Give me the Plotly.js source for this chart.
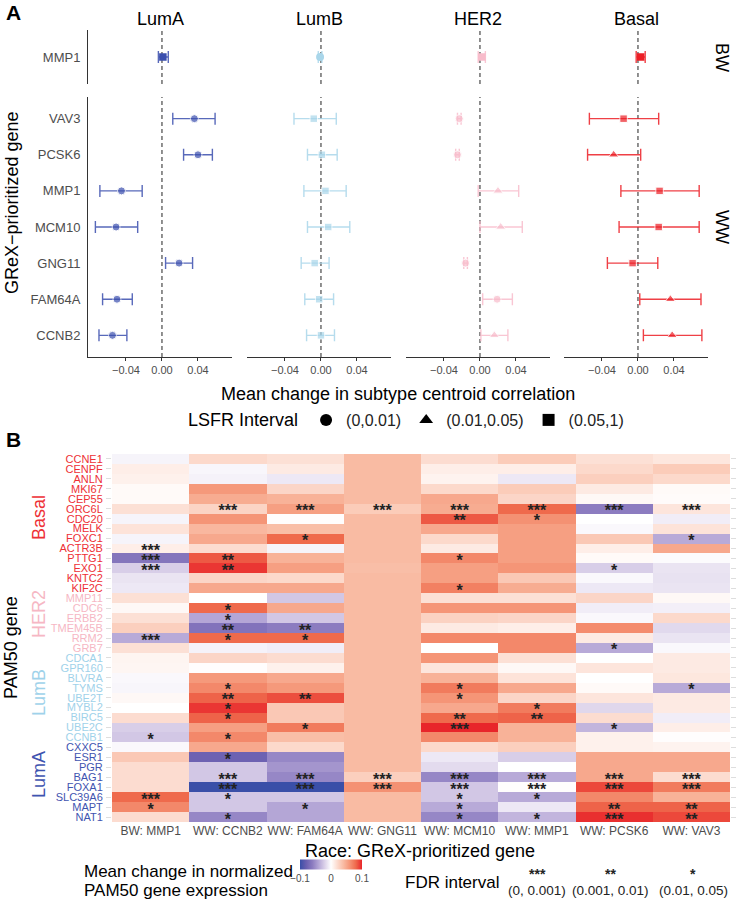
<!DOCTYPE html>
<html><head><meta charset="utf-8">
<script src="https://cdn.plot.ly/plotly-3.0.1.min.js"></script>
<style>body{margin:0;background:#fff}#chart{width:737px;height:901px}</style>
</head><body><div id="chart"></div>
<script>
// ---------------- Panel A data ----------------
const subtypes = ["LumA", "LumB", "HER2", "Basal"];
const subtypeColors = ["#3b4fae", "#a9d6ea", "#f8bccb", "#ec1f26"];
const genesBW = ["MMP1"];
const genesWW = ["VAV3", "PCSK6", "MMP1", "MCM10", "GNG11", "FAM64A", "CCNB2"];

// BW: MMP1, one value per subtype (LumA, LumB, HER2, Basal)
const bwEst  = [0.001, -0.001, 0.002, 0.003];
const bwLo   = [-0.004, -0.003, -0.002, -0.002];
const bwHi   = [0.007, 0.001, 0.006, 0.008];
const bwLsfr = ["(0.05,1)", "(0,0.01)", "(0.05,1)", "(0.05,1)"];

// WW, per subtype, genes in genesWW order
const wwEstLumA = [0.036, 0.040, -0.045, -0.051, 0.019, -0.050, -0.055];
const wwLoLumA  = [0.012, 0.024, -0.069, -0.074, 0.004, -0.066, -0.070];
const wwHiLumA  = [0.059, 0.056, -0.022, -0.027, 0.034, -0.033, -0.039];
const wwLsfrLumA = ["(0,0.01)", "(0,0.01)", "(0,0.01)", "(0,0.01)", "(0,0.01)", "(0,0.01)", "(0,0.01)"];

const wwEstLumB = [-0.008, 0.001, 0.005, 0.008, -0.007, -0.002, 0.000];
const wwLoLumB  = [-0.030, -0.015, -0.019, -0.015, -0.022, -0.018, -0.016];
const wwHiLumB  = [0.017, 0.018, 0.028, 0.032, 0.009, 0.014, 0.015];
const wwLsfrLumB = ["(0.05,1)", "(0.05,1)", "(0.05,1)", "(0.05,1)", "(0.05,1)", "(0.05,1)", "(0.05,1)"];

const wwEstHER2 = [-0.023, -0.025, 0.020, 0.023, -0.016, 0.019, 0.016];
const wwLoHER2  = [-0.025, -0.027, -0.002, 0.000, -0.018, 0.003, 0.001];
const wwHiHER2  = [-0.021, -0.023, 0.043, 0.047, -0.014, 0.036, 0.031];
const wwLsfrHER2 = ["(0,0.01)", "(0,0.01)", "(0.01,0.05)", "(0.01,0.05)", "(0,0.01)", "(0,0.01)", "(0.01,0.05)"];

const wwEstBasal = [-0.016, -0.027, 0.024, 0.023, -0.006, 0.036, 0.038];
const wwLoBasal  = [-0.054, -0.056, -0.019, -0.021, -0.034, 0.002, 0.006];
const wwHiBasal  = [0.023, 0.003, 0.068, 0.068, 0.022, 0.070, 0.071];
const wwLsfrBasal = ["(0.05,1)", "(0.01,0.05)", "(0.05,1)", "(0.05,1)", "(0.05,1)", "(0.01,0.05)", "(0.01,0.05)"];

const lsfrLevels = ["(0,0.01)", "(0.01,0.05)", "(0.05,1)"];
const xTicksA = [-0.04, 0, 0.04];

// ---------------- Panel B data ----------------
const heatCols = ["BW: MMP1", "WW: CCNB2", "WW: FAM64A", "WW: GNG11", "WW: MCM10", "WW: MMP1", "WW: PCSK6", "WW: VAV3"];
const heatGenes = ["CCNE1","CENPF","ANLN","MKI67","CEP55","ORC6L","CDC20","MELK","FOXC1","ACTR3B","PTTG1","EXO1","KNTC2","KIF2C",
  "MMP11","CDC6","ERBB2","TMEM45B","RRM2","GRB7",
  "CDCA1","GPR160","BLVRA","TYMS","UBE2T","MYBL2","BIRC5","UBE2C","CCNB1",
  "CXXC5","ESR1","PGR","BAG1","FOXA1","SLC39A6","MAPT","NAT1"];
const geneGroups = ["Basal","Basal","Basal","Basal","Basal","Basal","Basal","Basal","Basal","Basal","Basal","Basal","Basal","Basal",
  "HER2","HER2","HER2","HER2","HER2","HER2",
  "LumB","LumB","LumB","LumB","LumB","LumB","LumB","LumB","LumB",
  "LumA","LumA","LumA","LumA","LumA","LumA","LumA","LumA"];
const heatZ = [
  [-0.005, 0.022, 0.018, 0.040, 0.020, 0.030, 0.018, 0.014],
  [0.010, -0.004, 0.012, 0.040, 0.010, 0.010, 0.022, 0.030],
  [0.008, -0.006, -0.010, 0.040, 0.007, -0.010, 0.028, 0.022],
  [0.003, 0.058, 0.024, 0.040, 0.022, 0.030, 0.012, 0.003],
  [0.003, 0.048, 0.045, 0.040, 0.050, 0.024, 0.004, 0.002],
  [0.018, 0.025, 0.055, 0.030, 0.048, 0.080, -0.060, 0.015],
  [-0.005, 0.060, 0.001, 0.040, 0.085, 0.062, 0.000, -0.008],
  [0.016, 0.042, 0.038, 0.040, 0.050, 0.055, -0.003, 0.016],
  [-0.005, 0.050, 0.080, 0.040, 0.022, 0.055, 0.032, -0.038],
  [0.010, 0.020, -0.005, 0.040, 0.012, 0.055, 0.010, 0.050],
  [-0.065, 0.085, 0.045, 0.040, 0.066, 0.055, 0.003, -0.002],
  [-0.022, 0.095, 0.055, 0.038, 0.055, 0.060, -0.022, -0.012],
  [-0.012, 0.024, 0.022, 0.040, 0.055, 0.032, -0.003, -0.013],
  [-0.010, 0.050, 0.050, 0.040, 0.070, 0.048, -0.010, -0.012],
  [0.018, 0.000, -0.025, 0.040, 0.018, 0.018, 0.024, 0.004],
  [0.004, 0.080, 0.050, 0.040, 0.060, 0.060, -0.008, -0.007],
  [0.018, -0.040, -0.025, 0.040, 0.026, 0.024, -0.003, 0.022],
  [0.028, -0.066, -0.060, 0.040, 0.012, 0.010, 0.064, -0.017],
  [-0.038, 0.080, 0.080, 0.040, 0.066, 0.066, 0.012, -0.012],
  [0.018, -0.006, -0.008, 0.040, 0.000, 0.066, -0.038, -0.003],
  [0.006, 0.024, 0.020, 0.040, 0.060, 0.018, 0.000, 0.012],
  [0.005, 0.001, 0.008, 0.040, 0.015, 0.004, 0.015, 0.012],
  [-0.003, 0.058, 0.050, 0.040, 0.045, 0.016, 0.000, 0.014],
  [-0.004, 0.066, 0.058, 0.040, 0.072, 0.050, 0.003, -0.038],
  [0.004, 0.082, 0.088, 0.040, 0.060, 0.024, 0.015, 0.012],
  [0.000, 0.095, 0.032, 0.040, 0.050, 0.072, -0.018, 0.012],
  [0.020, 0.082, 0.032, 0.040, 0.080, 0.082, 0.020, -0.008],
  [-0.022, 0.055, 0.072, 0.040, 0.100, 0.045, -0.033, 0.010],
  [-0.025, 0.066, 0.038, 0.040, 0.066, 0.045, 0.008, 0.001],
  [-0.003, 0.050, 0.022, 0.040, 0.022, 0.028, 0.008, 0.007],
  [0.032, -0.078, -0.055, 0.040, -0.010, -0.022, 0.050, 0.050],
  [0.020, -0.025, -0.048, 0.040, -0.016, 0.000, 0.050, 0.050],
  [0.020, -0.025, -0.055, 0.028, -0.055, -0.038, 0.050, 0.020],
  [0.020, -0.100, -0.100, 0.062, -0.025, 0.001, 0.090, 0.072],
  [0.080, -0.025, -0.025, 0.040, -0.025, -0.038, 0.066, 0.045],
  [0.066, -0.025, -0.040, 0.040, -0.038, -0.010, 0.082, 0.082],
  [0.020, -0.055, -0.040, 0.040, -0.055, -0.033, 0.097, 0.090]
];
const heatStars = [
  ["","","","","","","",""],
  ["","","","","","","",""],
  ["","","","","","","",""],
  ["","","","","","","",""],
  ["","","","","","","",""],
  ["","***","***","***","***","***","***","***"],
  ["","","","","**","*","",""],
  ["","","","","","","",""],
  ["","","*","","","","","*"],
  ["***","","","","","","",""],
  ["***","**","","","*","","",""],
  ["***","**","","","","","*",""],
  ["","","","","","","",""],
  ["","","","","*","","",""],
  ["","","","","","","",""],
  ["","*","","","","","",""],
  ["","*","","","","","",""],
  ["","**","**","","","","",""],
  ["***","*","*","","","","",""],
  ["","","","","","","*",""],
  ["","","","","","","",""],
  ["","","","","","","",""],
  ["","","","","","","",""],
  ["","*","","","*","","","*"],
  ["","**","**","","*","","",""],
  ["","*","","","","*","",""],
  ["","*","","","**","**","",""],
  ["","","*","","***","","*",""],
  ["*","*","","","","","",""],
  ["","","","","","","",""],
  ["","*","","","","","",""],
  ["","","","","","","",""],
  ["","***","***","***","***","***","***","***"],
  ["","***","***","***","***","***","***","***"],
  ["***","*","","","*","*","",""],
  ["*","","*","","*","","**","**"],
  ["","*","","","*","*","***","**"]
];
const groupColors = {Basal: "#ee3036", HER2: "#f6b7c4", LumB: "#9fd2ea", LumA: "#3f54b0"};
const fdrLevels = ["***", "**", "*"];
const fdrLabels = ["(0, 0.001)", "(0.001, 0.01)", "(0.01, 0.05)"];

// ---------------- Build ----------------
const W = 737, H = 901;
const px = x => x / W;
const py = y => 1 - y / H;
const FONT = "Liberation Sans, Arial, Helvetica, sans-serif";
const symbolOf = {"(0,0.01)": "circle", "(0.01,0.05)": "triangle-up", "(0.05,1)": "square"};
const sizeOf = {"(0,0.01)": 8, "(0.01,0.05)": 9, "(0.05,1)": 7.5};

const colDom = [[88, 232], [247, 391], [406, 550], [564, 708]];
const xRangeA = [-0.0822, 0.0778];
const wwData = {
  LumA: [wwEstLumA, wwLoLumA, wwHiLumA, wwLsfrLumA],
  LumB: [wwEstLumB, wwLoLumB, wwHiLumB, wwLsfrLumB],
  HER2: [wwEstHER2, wwLoHER2, wwHiHER2, wwLsfrHER2],
  Basal: [wwEstBasal, wwLoBasal, wwHiBasal, wwLsfrBasal]
};

const traces = [];
const layout = {
  width: W, height: H, margin: {l: 0, r: 0, t: 0, b: 0},
  paper_bgcolor: "#fff", plot_bgcolor: "rgba(0,0,0,0)",
  font: {family: FONT, color: "#000"},
  showlegend: true,
  shapes: [], annotations: []
};

function rgba(hex, a) {
  const n = parseInt(hex.slice(1), 16);
  return `rgba(${(n >> 16) & 255},${(n >> 8) & 255},${n & 255},${a})`;
}

subtypes.forEach((st, i) => {
  const c = subtypeColors[i];
  const ib = i + 1, iw = i + 5;
  traces.push({
    type: "scatter", mode: "markers", xaxis: "x" + ib, yaxis: "y" + ib, showlegend: false,
    x: [bwEst[i]], y: genesBW,
    marker: {color: c, size: sizeOf[bwLsfr[i]], symbol: symbolOf[bwLsfr[i]]},
    error_x: {type: "data", symmetric: false, array: [bwHi[i] - bwEst[i]], arrayminus: [bwEst[i] - bwLo[i]],
      color: rgba(c, 0.85), thickness: 1.4, width: 6},
    hoverinfo: "skip"
  });
  const [est, lo, hi, ls] = wwData[st];
  traces.push({
    type: "scatter", mode: "markers", xaxis: "x" + iw, yaxis: "y" + iw, showlegend: false,
    x: est, y: genesWW,
    marker: {color: c, size: ls.map(l => sizeOf[l]), symbol: ls.map(l => symbolOf[l])},
    error_x: {type: "data", symmetric: false, array: hi.map((h, k) => h - est[k]), arrayminus: lo.map((l, k) => est[k] - l),
      color: rgba(c, 0.85), thickness: 1.4, width: 6},
    hoverinfo: "skip"
  });
  const dom = [px(colDom[i][0]), px(colDom[i][1])];
  layout["xaxis" + ib] = {domain: dom, range: xRangeA, anchor: "y" + ib, showticklabels: false, showgrid: false,
    zeroline: false, showline: false, ticks: "", fixedrange: true};
  layout["xaxis" + iw] = {domain: dom, range: xRangeA, anchor: "y" + iw, showgrid: false, zeroline: false,
    showline: true, linecolor: "#333", linewidth: 1, ticks: "outside", ticklen: 3, tickcolor: "#333",
    tickvals: xTicksA, tickformat: ".2f", tickfont: {size: 11, color: "#4d4d4d"}, automargin: false};
  layout["yaxis" + ib] = {domain: [py(84), py(30)], type: "category", categoryorder: "array", categoryarray: genesBW,
    range: [-0.6, 0.6], anchor: "x" + ib, showgrid: false, zeroline: false, ticks: "",
    showline: i === 0, linecolor: "#333", linewidth: 1, showticklabels: i === 0,
    tickfont: {size: 13, color: "#4d4d4d"}, ticklabelstandoff: 4, automargin: false};
  layout["yaxis" + iw] = {domain: [py(357), py(97)], type: "category", categoryorder: "array", categoryarray: genesWW,
    range: [genesWW.length - 0.4, -0.6], anchor: "x" + iw, showgrid: false, zeroline: false, ticks: "",
    showline: i === 0, linecolor: "#333", linewidth: 1, showticklabels: i === 0,
    tickfont: {size: 13, color: "#4d4d4d"}, ticklabelstandoff: 4, automargin: false};
  [ib, iw].forEach(k => {
    layout.shapes.push({type: "line", xref: "x" + k, x0: 0, x1: 0, yref: "y" + k + " domain", y0: 0, y1: 1,
      line: {color: "#222", width: 1, dash: "4px,3px"}, layer: "below"});
  });
  layout.annotations.push({text: st, xref: "paper", yref: "paper", x: (dom[0] + dom[1]) / 2, y: py(19),
    xanchor: "center", yanchor: "middle", showarrow: false, font: {size: 18}});
});

// LSFR legend entries
lsfrLevels.forEach(l => {
  traces.push({type: "scatter", mode: "markers", x: [null], y: [null], xaxis: "x1", yaxis: "y1", name: l,
    marker: {color: "#000", size: sizeOf[l] - 2, symbol: symbolOf[l]}, showlegend: true, hoverinfo: "skip"});
});

// Heatmap
traces.push({
  type: "heatmap", x: heatCols, y: heatGenes, z: heatZ, xaxis: "x9", yaxis: "y9",
  coloraxis: "coloraxis", showlegend: false, hoverinfo: "skip", xgap: 0, ygap: 0
});
// FDR stars as text
const sx = [], sy = [], st = [];
heatStars.forEach((row, r) => row.forEach((s, c) => { if (s) { sx.push(heatCols[c]); sy.push(heatGenes[r]); st.push(s); } }));
traces.push({type: "scatter", mode: "text", x: sx, y: sy, text: st, xaxis: "x9", yaxis: "y10",
  textposition: "middle center", textfont: {size: 16, color: "#222", family: FONT, weight: "bold"},
  showlegend: false, hoverinfo: "skip"});

const hDom = [py(822), py(454)];
const shift = 3.5 / H;
layout.xaxis9 = {domain: [px(112), px(730)], anchor: "y9", type: "category", categoryorder: "array", categoryarray: heatCols,
  range: [-0.5, heatCols.length - 0.5], showgrid: false, zeroline: false, showline: false, ticks: "",
  tickfont: {size: 12, color: "#4d4d4d"}, automargin: false};
layout.yaxis9 = {domain: hDom, anchor: "x9", type: "category", categoryorder: "array", categoryarray: heatGenes,
  range: [heatGenes.length - 0.5, -0.5], showgrid: false, zeroline: false, showline: false,
  ticks: "outside", ticklen: 5, tickcolor: "#dedede", tickwidth: 1, mirror: "ticks",
  tickvals: heatGenes, ticktext: heatGenes.map((g, k) => `<span style="color:${groupColors[geneGroups[k]]}">${g}</span>`),
  tickfont: {size: 11}, ticklabelstandoff: 1, automargin: false};
layout.yaxis10 = {domain: [hDom[0] - shift, hDom[1] - shift], anchor: "x9", type: "category", categoryorder: "array",
  categoryarray: heatGenes, range: [heatGenes.length - 0.5, -0.5], visible: false, showgrid: false, zeroline: false};

layout.coloraxis = {
  cmin: -0.1, cmax: 0.1,
  colorscale: [[0, "#3a4fa8"], [0.1, "#6a5fb0"], [0.2, "#8c7cc0"], [0.3, "#b4a6d6"], [0.4, "#dcd2ea"], [0.5, "#ffffff"],
    [0.6, "#fcdcd0"], [0.7, "#f9bba3"], [0.8, "#f59577"], [0.9, "#ef6a4c"], [1, "#e8252a"]],
  colorbar: {orientation: "h", x: px(331), xanchor: "center", y: py(870), yanchor: "middle",
    len: 62, lenmode: "pixels", thickness: 10, thicknessmode: "pixels",
    tickvals: [-0.1, 0, 0.1], ticktext: ["\u22120.1", "0", "0.1"], tickfont: {size: 10, color: "#4d4d4d"},
    ticks: "", outlinewidth: 0, xpad: 0, ypad: 0}
};

layout.legend = {orientation: "h", x: px(186), xanchor: "left", y: py(420), yanchor: "middle",
  font: {size: 16, color: "#222"}, title: {text: "LSFR Interval", side: "left", font: {size: 18, color: "#000"}},
  bgcolor: "rgba(0,0,0,0)", itemsizing: "constant", itemwidth: 30, tracegroupgap: 0};

const A = layout.annotations;
function ann(text, x, y, opts) {
  A.push(Object.assign({text, xref: "paper", yref: "paper", x: px(x), y: py(y), showarrow: false,
    xanchor: "center", yanchor: "middle", font: {size: 18, color: "#000"}}, opts || {}));
}
ann("<b>A</b>", 4, 12, {xanchor: "left", font: {size: 21}});
ann("<b>B</b>", 4, 439, {xanchor: "left", font: {size: 21}});
ann("BW", 722, 57, {textangle: 90});
ann("WW", 722, 227, {textangle: 90});
ann("GReX\u2212prioritized gene", 12, 203, {textangle: -90});
ann("Mean change in subtype centroid correlation", 398, 394);
ann("Basal", 39, 518, {textangle: -90, font: {size: 18, color: groupColors.Basal}});
ann("HER2", 39, 614, {textangle: -90, font: {size: 18, color: groupColors.HER2}});
ann("LumB", 39, 693, {textangle: -90, font: {size: 18, color: groupColors.LumB}});
ann("LumA", 39, 775, {textangle: -90, font: {size: 18, color: groupColors.LumA}});
ann("PAM50 gene", 11, 648, {textangle: -90});
ann("Race: GReX-prioritized gene", 420, 851);
ann("Mean change in normalized", 82, 871, {xanchor: "left", font: {size: 17}});
ann("PAM50 gene expression", 82, 890, {xanchor: "left", font: {size: 17}});
ann("FDR interval", 403, 882, {xanchor: "left", font: {size: 17}});
const fdrX = [537, 610, 693];
fdrLevels.forEach((s, k) => {
  ann(s, fdrX[k], 874, {font: {size: 14, color: "#222", weight: "bold"}});
  ann(fdrLabels[k], fdrX[k], 890, {font: {size: 13.5, color: "#222"}});
});

Plotly.newPlot("chart", traces, layout, {staticPlot: true, displayModeBar: false});
</script></body></html>
